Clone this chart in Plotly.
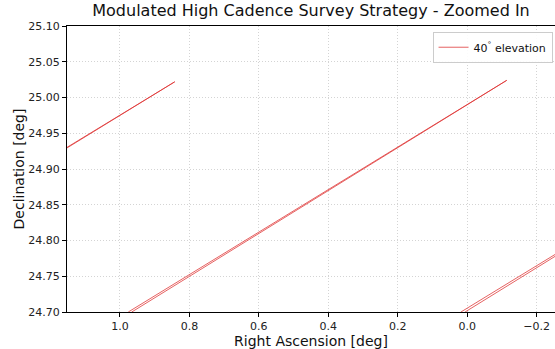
import plotly.graph_objects as go

# Survey tracks: each track is a pair of nearly coincident lines that meet at
# the northern end and fan out slightly toward the south.
track_ra_north = [0.842, -0.114, -1.070]
track_dec_north = [25.022, 25.024, 25.023]
track_ra_south_a = [1.932, 0.976, 0.018]
track_ra_south_b = [1.922, 0.966, 0.006]
track_dec_south = [24.70, 24.70, 24.70]

xticks = [1.0, 0.8, 0.6, 0.4, 0.2, 0.0, -0.2]
yticks = [24.70, 24.75, 24.80, 24.85, 24.90, 24.95, 25.00, 25.05, 25.10]

line_color = "rgba(222,45,45,0.75)"


def segments(ra_south, ra_north, dec_south, dec_north):
    xs, ys = [], []
    for rs, rn, ds, dn in zip(ra_south, ra_north, dec_south, dec_north):
        xs += [rs, rn, None]
        ys += [ds, dn, None]
    return xs, ys


fig = go.Figure()
xa, ya = segments(track_ra_south_a, track_ra_north, track_dec_south, track_dec_north)
xb, yb = segments(track_ra_south_b, track_ra_north, track_dec_south, track_dec_north)
fig.add_trace(go.Scatter(x=xa, y=ya, mode="lines", line=dict(color=line_color, width=1),
                         name="40<sup>°</sup> elevation", showlegend=True))
fig.add_trace(go.Scatter(x=xb, y=yb, mode="lines", line=dict(color=line_color, width=1),
                         showlegend=False))

font = "DejaVu Sans, Arial, sans-serif"
axis_common = dict(
    showline=True, linecolor="#000", linewidth=1,
    ticks="outside", ticklen=4, tickcolor="#000",
    showgrid=True, gridcolor="#d4d4d4", griddash="1px,2px", gridwidth=1,
    zeroline=False, tickfont=dict(family=font, size=11, color="#222"),
)

fig.update_layout(
    width=555, height=349,
    margin=dict(l=67, r=0, t=26, b=37),
    paper_bgcolor="white", plot_bgcolor="white",
    title=dict(text="Modulated High Cadence Survey Strategy - Zoomed In",
               x=(67 + 555) / 2 / 555, xanchor="center", y=0.97, yanchor="middle",
               font=dict(family=font, size=16, color="#111")),
    xaxis=dict(range=[1.1525, -0.253], tickvals=xticks, tickformat=".1f",
               mirror=True,
               title=dict(text="Right Ascension [deg]", standoff=3,
                          font=dict(family=font, size=14, color="#111")),
               **axis_common),
    yaxis=dict(range=[24.70, 25.10], tickvals=yticks, tickformat=".2f",
               title=dict(text="Declination [deg]", standoff=0,
                          font=dict(family=font, size=14, color="#111")),
               **axis_common),
    legend=dict(x=0.995, y=0.98, xanchor="right", yanchor="top",
                bgcolor="rgba(255,255,255,0.9)", bordercolor="#ccc", borderwidth=1,
                font=dict(family=font, size=11, color="#111")),
)

fig.write_html("out.html")
